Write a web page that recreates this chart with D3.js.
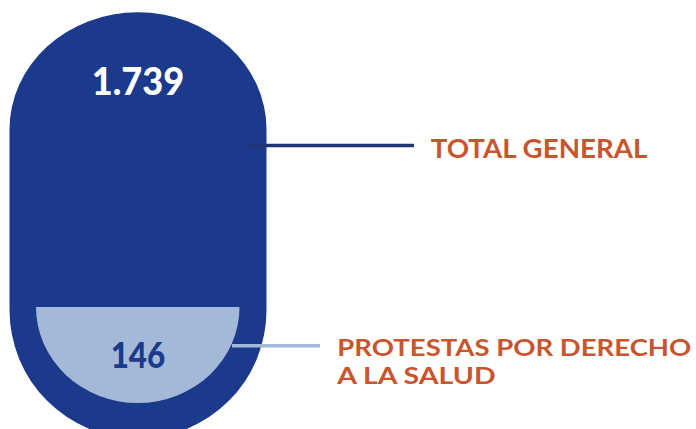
<!DOCTYPE html>
<html>
<head>
<meta charset="utf-8">
<script src="https://cdn.jsdelivr.net/npm/d3@7"></script>
<style>
  html, body { margin: 0; padding: 0; background: #ffffff; }
  svg { display: block; }
</style>
</head>
<body>
<div id="chart"></div>
<script>
// ---- data ----
const categories = ["TOTAL GENERAL", "PROTESTAS POR DERECHO A LA SALUD"];
const labelLines = [["TOTAL GENERAL"], ["PROTESTAS POR DERECHO", "A LA SALUD"]];
const values = [1739, 146];

// ---- layout ----
const W = 696, H = 429;
const colors = { outer: "#1b3a8b", inner: "#a3b9d7", outerLine: "#1d3577", label: "#c8552e" };

const locale = d3.formatLocale({ decimal: ",", thousands: ".", grouping: [3], currency: ["", ""] });
const fmt = locale.format(",");

const svg = d3.select("#chart").append("svg").attr("width", W).attr("height", H);

// horizontal scale for the pill
const x = d3.scaleLinear().domain([0, 1]).range([9.5, 266.5]);
const cx = x(0.5);
const R = (x(1) - x(0)) / 2;

// vertical scale of the vessel
const y = d3.scaleLinear().domain([0, 1]).range([438.5, 12.3]);
const topRy = 117;
const topC = y(1) + topRy;
const botC = y(0) - R;

// outer pill (total)
svg.append("path")
  .attr("d", `M${x(0)},${topC} A${R},${topRy} 0 0 1 ${x(1)},${topC} L${x(1)},${botC} A${R},${R} 0 0 1 ${x(0)},${botC} Z`)
  .attr("fill", colors.outer);

// inner fill (subset)
const innerX = d3.scaleLinear().domain([0, 1]).range([36, 239.5]);
const innerTop = 307;
const innerRx = (innerX(1) - innerX(0)) / 2;
const innerRy = 96;
svg.append("path")
  .attr("d", `M${innerX(0)},${innerTop} L${innerX(1)},${innerTop} A${innerRx},${innerRy} 0 0 1 ${innerX(0)},${innerTop} Z`)
  .attr("fill", colors.inner);

// value labels
const valueLabels = [
  { v: values[0], y: 95, size: 37, w: 92.3, fill: "#ffffff" },
  { v: values[1], y: 367.7, size: 36, w: 54.7, fill: colors.outer }
];
svg.selectAll("text.val").data(valueLabels).join("text")
  .attr("class", "val")
  .attr("x", cx)
  .attr("y", d => d.y)
  .attr("text-anchor", "middle")
  .attr("font-family", "Lato, 'Open Sans', sans-serif")
  .attr("font-weight", 900)
  .attr("font-size", d => d.size)
  .attr("fill", d => d.fill)
  .attr("textLength", d => d.w)
  .attr("lengthAdjust", "spacingAndGlyphs")
  .text(d => fmt(d.v));

// leader lines
const leaders = [
  { x1: 248, x2: 414, y: 145.5, color: colors.outerLine },
  { x1: 232, x2: 320, y: 345.7, color: colors.inner }
];
svg.selectAll("line.leader").data(leaders).join("line")
  .attr("class", "leader")
  .attr("x1", d => d.x1).attr("x2", d => d.x2)
  .attr("y1", d => d.y).attr("y2", d => d.y)
  .attr("stroke", d => d.color)
  .attr("stroke-width", 3.6);

// category labels
const labelPos = [
  { x: 430.7, y: 158.3, size: 27.5, lh: 0, widths: [216.7] },
  { x: 337.3, y: 355.8, size: 23.5, lh: 28.4, widths: [354, 158.3] }
];
categories.forEach((c, i) => {
  labelLines[i].forEach((line, j) => {
    svg.append("text")
      .attr("font-family", "Lato, 'Open Sans', sans-serif")
      .attr("font-weight", 700)
      .attr("font-size", labelPos[i].size)
      .attr("fill", colors.label)
      .attr("x", labelPos[i].x)
      .attr("y", labelPos[i].y + j * labelPos[i].lh)
      .attr("textLength", labelPos[i].widths[j])
      .attr("lengthAdjust", "spacingAndGlyphs")
      .text(line);
  });
});
</script>
</body>
</html>
